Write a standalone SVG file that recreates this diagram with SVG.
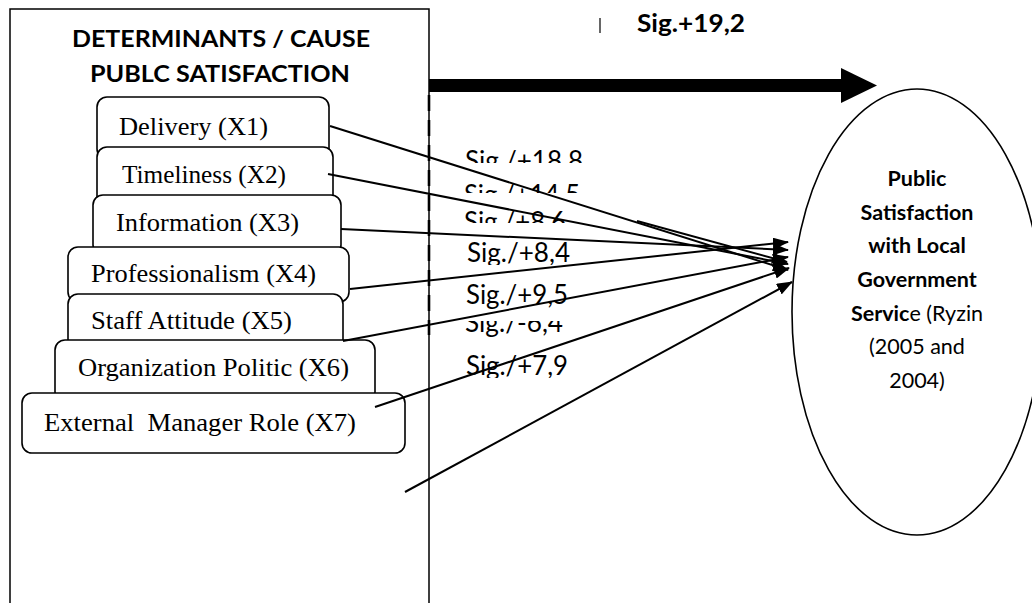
<svg xmlns="http://www.w3.org/2000/svg" width="1032" height="603" viewBox="0 0 1032 603">
<style>
.box{fill:#fff;stroke:#000;stroke-width:1.6}
.ser{font-family:"Liberation Serif","Times New Roman",serif;font-size:26px;fill:#000}
.cal{font-family:Lato,"Open Sans",sans-serif;fill:#000}
.b{font-weight:bold}
.sig{font-size:26px}
.con{stroke:#000;stroke-width:2;fill:none;marker-end:url(#ah)}
.el{font-size:21.5px;text-anchor:middle}
</style>
<defs>
<marker id="ah" markerUnits="userSpaceOnUse" markerWidth="16" markerHeight="12" refX="15" refY="6" orient="auto">
<path d="M0,0 L16,6 L0,12 z" fill="#000"/>
</marker>
<clipPath id="c1"><rect x="440" y="140" width="200" height="23"/></clipPath>
<clipPath id="c2"><rect x="440" y="175" width="200" height="18"/></clipPath>
<clipPath id="c3"><rect x="440" y="203" width="200" height="20"/></clipPath>
<clipPath id="c4"><rect x="440" y="234" width="200" height="31"/></clipPath>
<clipPath id="c5"><rect x="440" y="276" width="200" height="34"/></clipPath>
<clipPath id="c6"><rect x="440" y="321" width="200" height="20"/></clipPath>
<clipPath id="c7"><rect x="440" y="348" width="200" height="30"/></clipPath>
</defs>
<rect width="1032" height="603" fill="#fff"/>

<g id="frame">
<path d="M10,610 V9 H429 V610" fill="none" stroke="#000" stroke-width="1.5"/>
<line x1="429" y1="95" x2="429" y2="335" stroke="#000" stroke-width="2.6" stroke-dasharray="16 9"/>
<text class="cal b" x="72" y="47" font-size="22.5" textLength="298" lengthAdjust="spacingAndGlyphs">DETERMINANTS / CAUSE</text>
<text class="cal b" x="90" y="82" font-size="22.5" textLength="260" lengthAdjust="spacingAndGlyphs">PUBLC SATISFACTION</text>
</g>

<g id="x1"><rect class="box" x="97" y="97" width="232" height="62" rx="10"/><text class="ser" x="119" y="135" textLength="149" lengthAdjust="spacingAndGlyphs">Delivery (X1)</text></g>
<g id="x2"><rect class="box" x="97" y="147" width="236" height="60" rx="10"/><text class="ser" x="122" y="183" textLength="164" lengthAdjust="spacingAndGlyphs">Timeliness (X2)</text></g>
<g id="x3"><rect class="box" x="93" y="195" width="248" height="60" rx="10"/><text class="ser" x="116" y="231" textLength="183" lengthAdjust="spacingAndGlyphs">Information (X3)</text></g>
<g id="x4"><rect class="box" x="68" y="247" width="281" height="55" rx="10"/><text class="ser" x="91" y="282" textLength="225" lengthAdjust="spacingAndGlyphs">Professionalism (X4)</text></g>
<g id="x5"><rect class="box" x="68" y="294" width="275" height="60" rx="10"/><text class="ser" x="91" y="329" textLength="201" lengthAdjust="spacingAndGlyphs">Staff Attitude (X5)</text></g>
<g id="x6"><rect class="box" x="55" y="340" width="320" height="62" rx="10"/><text class="ser" x="78" y="376" textLength="271" lengthAdjust="spacingAndGlyphs">Organization Politic (X6)</text></g>
<g id="x7"><rect class="box" x="22" y="393" width="383" height="60" rx="10"/><text class="ser" x="44" y="431" textLength="312" lengthAdjust="spacingAndGlyphs" style="white-space:pre">External  Manager Role (X7)</text></g>

<g id="outcome">
<ellipse cx="917" cy="312" rx="125" ry="223" fill="#fff" stroke="#000" stroke-width="1.6"/>
<text class="cal el b" x="917" y="186">Public</text>
<text class="cal el b" x="917" y="220">Satisfaction</text>
<text class="cal el b" x="917" y="253">with Local</text>
<text class="cal el b" x="917" y="287">Government</text>
<text class="cal el" x="917" y="321"><tspan font-weight="bold">Servic</tspan>e (Ryzin</text>
<text class="cal el" x="917" y="354">(2005 and</text>
<text class="cal el" x="917" y="388">2004)</text>
</g>

<g id="labels">
<line x1="600" y1="18" x2="600" y2="33" stroke="#000" stroke-width="1.2"/>
<text class="cal b" x="637" y="32" font-size="24" textLength="108" lengthAdjust="spacingAndGlyphs">Sig.+19,2</text>
<g clip-path="url(#c1)"><text class="cal sig" x="465" y="170" textLength="118" lengthAdjust="spacingAndGlyphs">Sig./+18,8</text></g>
<g clip-path="url(#c2)"><text class="cal sig" x="464" y="204" textLength="116" lengthAdjust="spacingAndGlyphs">Sig./+14,5</text></g>
<g clip-path="url(#c3)"><text class="cal sig" x="464" y="231" textLength="102" lengthAdjust="spacingAndGlyphs">Sig./+8,6</text></g>
<g clip-path="url(#c4)"><text class="cal sig" x="467" y="262" textLength="103" lengthAdjust="spacingAndGlyphs">Sig./+8,4</text></g>
<g clip-path="url(#c5)"><text class="cal sig" x="466" y="304" textLength="102" lengthAdjust="spacingAndGlyphs">Sig./+9,5</text></g>
<g clip-path="url(#c6)"><text class="cal sig" x="465" y="332" textLength="98" lengthAdjust="spacingAndGlyphs">Sig./-6,4</text></g>
<g clip-path="url(#c7)"><text class="cal sig" x="466" y="375" textLength="102" lengthAdjust="spacingAndGlyphs">Sig./+7,9</text></g>
</g>

<g id="connectors">
<rect x="429" y="79" width="413" height="13" fill="#000"/>
<polygon points="841,68 877,85.5 841,103" fill="#000"/>
<line class="con" x1="330" y1="126" x2="788" y2="270"/>
<line class="con" x1="328" y1="174" x2="788" y2="264"/>
<line class="con" x1="637" y1="221" x2="787" y2="262"/>
<line class="con" x1="341" y1="229" x2="788" y2="250"/>
<line class="con" x1="350" y1="289" x2="788" y2="242"/>
<line class="con" x1="343" y1="341" x2="788" y2="257"/>
<line class="con" x1="375" y1="407" x2="789" y2="268"/>
<line class="con" x1="405" y1="492" x2="792" y2="282"/>
</g>
</svg>
